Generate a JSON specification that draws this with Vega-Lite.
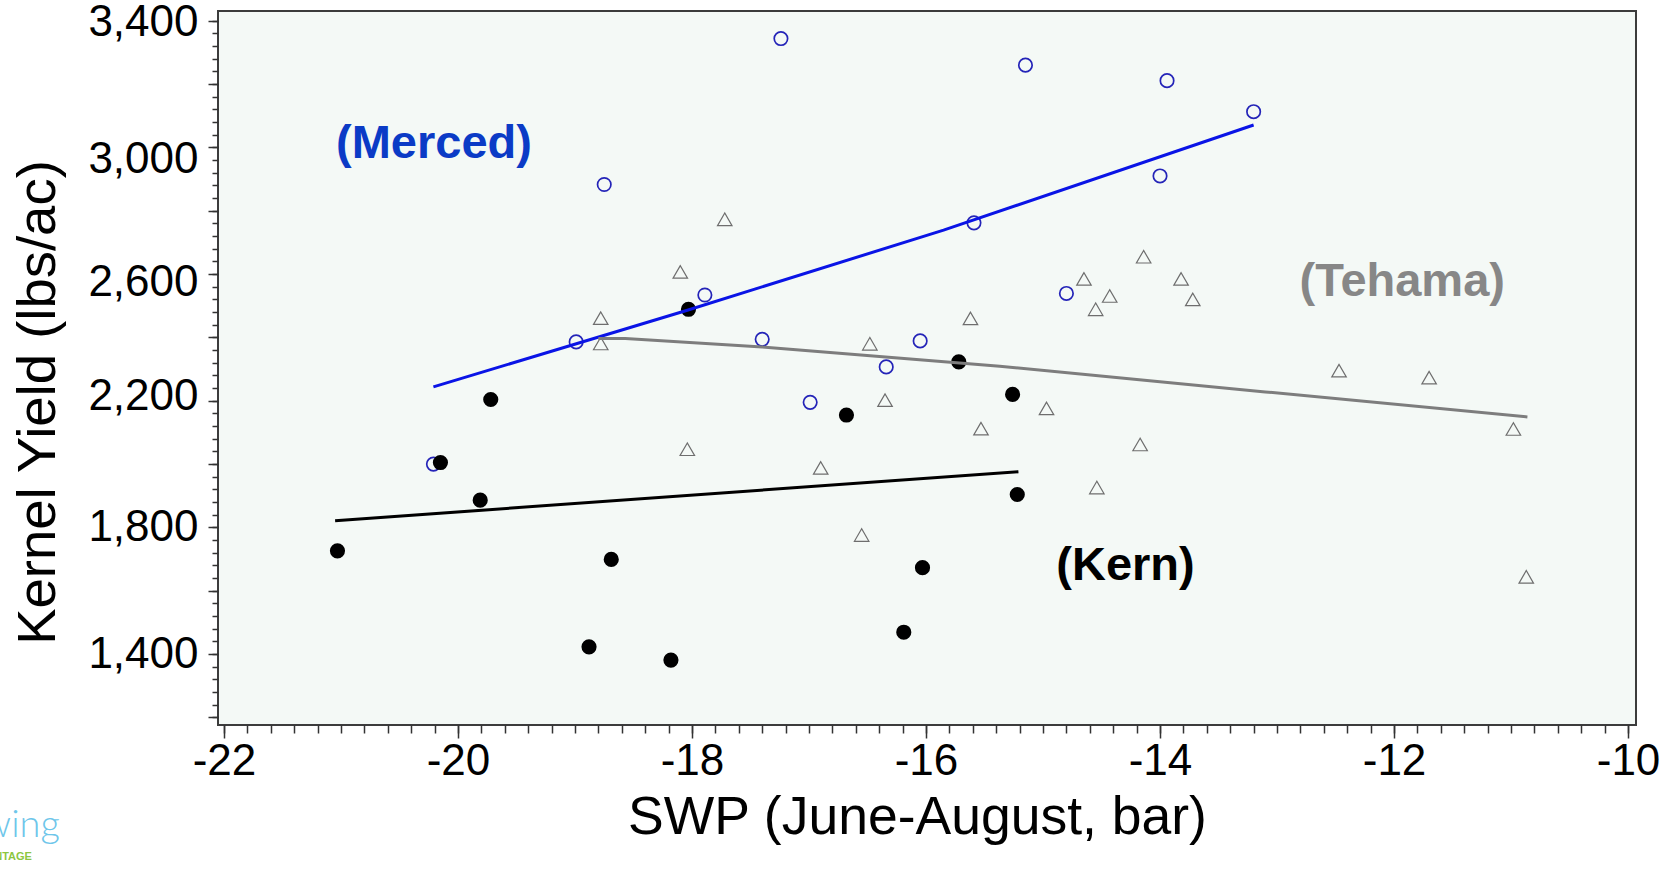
{
  "$schema": "https://vega.github.io/schema/vega-lite/v6.json",
  "width": 1418,
  "height": 714,
  "autosize": {"type": "none"},
  "padding": {"left": 218, "top": 11, "right": 44, "bottom": 146},
  "background": "#FFFFFF",
  "config": {
    "font": "Liberation Sans",
    "view": {"stroke": "#3c3c3c", "strokeWidth": 2, "fill": "#F4F9F6"}
  },
  "datasets": {
    "pts": [
      {"site": "Merced", "swp": -17.24, "yield": 3344},
      {"site": "Merced", "swp": -18.75, "yield": 2883},
      {"site": "Merced", "swp": -17.89, "yield": 2534},
      {"site": "Merced", "swp": -18.99, "yield": 2386},
      {"site": "Merced", "swp": -17.40, "yield": 2394},
      {"site": "Merced", "swp": -15.15, "yield": 3260},
      {"site": "Merced", "swp": -13.94, "yield": 3211},
      {"site": "Merced", "swp": -13.20, "yield": 3113},
      {"site": "Merced", "swp": -14.00, "yield": 2910},
      {"site": "Merced", "swp": -15.59, "yield": 2762},
      {"site": "Merced", "swp": -14.80, "yield": 2539},
      {"site": "Merced", "swp": -16.05, "yield": 2389},
      {"site": "Merced", "swp": -16.34, "yield": 2307},
      {"site": "Merced", "swp": -16.99, "yield": 2195},
      {"site": "Merced", "swp": -20.21, "yield": 2000},
      {"site": "Kern", "swp": -19.72, "yield": 2204},
      {"site": "Kern", "swp": -20.15, "yield": 2005},
      {"site": "Kern", "swp": -19.81, "yield": 1886},
      {"site": "Kern", "swp": -21.03, "yield": 1726},
      {"site": "Kern", "swp": -18.69, "yield": 1699},
      {"site": "Kern", "swp": -18.88, "yield": 1423},
      {"site": "Kern", "swp": -18.18, "yield": 1381},
      {"site": "Kern", "swp": -18.03, "yield": 2489},
      {"site": "Kern", "swp": -16.68, "yield": 2155},
      {"site": "Kern", "swp": -15.72, "yield": 2323},
      {"site": "Kern", "swp": -15.26, "yield": 2220},
      {"site": "Kern", "swp": -15.22, "yield": 1904},
      {"site": "Kern", "swp": -16.03, "yield": 1673},
      {"site": "Kern", "swp": -16.19, "yield": 1469},
      {"site": "Tehama", "swp": -17.72, "yield": 2773},
      {"site": "Tehama", "swp": -18.10, "yield": 2607},
      {"site": "Tehama", "swp": -18.78, "yield": 2461},
      {"site": "Tehama", "swp": -18.78, "yield": 2381},
      {"site": "Tehama", "swp": -16.48, "yield": 2380},
      {"site": "Tehama", "swp": -15.62, "yield": 2460},
      {"site": "Tehama", "swp": -16.35, "yield": 2202},
      {"site": "Tehama", "swp": -15.53, "yield": 2112},
      {"site": "Tehama", "swp": -18.04, "yield": 2047},
      {"site": "Tehama", "swp": -16.90, "yield": 1988},
      {"site": "Tehama", "swp": -14.14, "yield": 2655},
      {"site": "Tehama", "swp": -14.65, "yield": 2585},
      {"site": "Tehama", "swp": -13.82, "yield": 2585},
      {"site": "Tehama", "swp": -14.43, "yield": 2531},
      {"site": "Tehama", "swp": -14.55, "yield": 2489},
      {"site": "Tehama", "swp": -13.72, "yield": 2520},
      {"site": "Tehama", "swp": -14.97, "yield": 2176},
      {"site": "Tehama", "swp": -14.17, "yield": 2062},
      {"site": "Tehama", "swp": -14.54, "yield": 1926},
      {"site": "Tehama", "swp": -12.47, "yield": 2295},
      {"site": "Tehama", "swp": -11.70, "yield": 2273},
      {"site": "Tehama", "swp": -10.98, "yield": 2111},
      {"site": "Tehama", "swp": -10.87, "yield": 1644},
      {"site": "Tehama", "swp": -16.55, "yield": 1776}
    ],
    "fit": [
      {"site": "Merced", "swp": -20.21, "yield": 2244},
      {"site": "Merced", "swp": -18.04, "yield": 2486},
      {"site": "Merced", "swp": -15.85, "yield": 2739},
      {"site": "Merced", "swp": -13.20, "yield": 3071},
      {"site": "Tehama", "swp": -18.80, "yield": 2397},
      {"site": "Tehama", "swp": -18.57, "yield": 2397},
      {"site": "Tehama", "swp": -17.40, "yield": 2370},
      {"site": "Tehama", "swp": -15.37, "yield": 2309},
      {"site": "Tehama", "swp": -13.10, "yield": 2228},
      {"site": "Tehama", "swp": -10.86, "yield": 2149},
      {"site": "Kern", "swp": -21.05, "yield": 1821},
      {"site": "Kern", "swp": -15.21, "yield": 1976}
    ],
    "notes": [
      {"site": "Merced", "swp": -20.205, "yield": 3010, "text": "(Merced)"},
      {"site": "Tehama", "swp": -11.93, "yield": 2574, "text": "(Tehama)"},
      {"site": "Kern", "swp": -14.295, "yield": 1678, "text": "(Kern)"}
    ],
    "logo": [
      {"part": "word", "swp": -23.402, "yield": 822, "text": "Growing"},
      {"part": "tag", "swp": -23.641, "yield": 750, "text": "ADVANTAGE"}
    ]
  },
  "layer": [
    {
      "data": {"name": "pts"},
      "transform": [{"filter": "datum.site == 'Tehama'"}],
      "mark": {"type": "point", "shape": "triangle-up", "filled": false, "stroke": "#6e6e6e", "strokeWidth": 1.2, "size": 210, "opacity": 1},
      "encoding": {
        "x": {"field": "swp", "type": "quantitative", "scale": {"domain": [-22.051, -9.932], "nice": false, "zero": false},
          "axis": {"orient": "bottom", "values": [-22,-21.8,-21.6,-21.4,-21.2,-21,-20.8,-20.6,-20.4,-20.2,-20,-19.8,-19.6,-19.4,-19.2,-19,-18.8,-18.6,-18.4,-18.2,-18,-17.8,-17.6,-17.4,-17.2,-17,-16.8,-16.6,-16.4,-16.2,-16,-15.8,-15.6,-15.4,-15.2,-15,-14.8,-14.6,-14.4,-14.2,-14,-13.8,-13.6,-13.4,-13.2,-13,-12.8,-12.6,-12.4,-12.2,-12,-11.8,-11.6,-11.4,-11.2,-11,-10.8,-10.6,-10.4,-10.2,-10],
            "labels": false, "domain": false, "grid": false, "tickSize": 8, "tickColor": "#333333", "tickWidth": 1.5, "title": null}},
        "y": {"field": "yield", "type": "quantitative", "scale": {"domain": [1176, 3431], "nice": false, "zero": false},
          "axis": {"orient": "left", "values": [1200,1240,1280,1320,1360,1400,1440,1480,1520,1560,1600,1640,1680,1720,1760,1800,1840,1880,1920,1960,2000,2040,2080,2120,2160,2200,2240,2280,2320,2360,2400,2440,2480,2520,2560,2600,2640,2680,2720,2760,2800,2840,2880,2920,2960,3000,3040,3080,3120,3160,3200,3240,3280,3320,3360,3400],
            "labels": false, "domain": false, "grid": false, "tickSize": 6, "tickColor": "#333333", "tickWidth": 1.5, "title": null}}
      }
    },
    {
      "data": {"name": "pts"},
      "transform": [{"filter": "datum.site == 'Merced'"}],
      "mark": {"type": "point", "shape": "circle", "filled": false, "stroke": "#2424B8", "strokeWidth": 1.7, "size": 180, "opacity": 1},
      "encoding": {
        "x": {"field": "swp", "type": "quantitative", "scale": {"domain": [-22.051, -9.932], "nice": false, "zero": false}, "axis": null},
        "y": {"field": "yield", "type": "quantitative", "scale": {"domain": [1176, 3431], "nice": false, "zero": false}, "axis": null}
      }
    },
    {
      "data": {"name": "pts"},
      "transform": [{"filter": "datum.site == 'Kern'"}],
      "mark": {"type": "point", "shape": "circle", "filled": true, "color": "#000000", "size": 230, "opacity": 1},
      "encoding": {
        "x": {"field": "swp", "type": "quantitative", "scale": {"domain": [-22.051, -9.932], "nice": false, "zero": false},
          "axis": {"orient": "bottom", "values": [-22,-20,-18,-16,-14,-12,-10],
            "labelExpr": "datum.value < 0 ? '-' + format(-datum.value, 'd') : format(datum.value, 'd')",
            "labelFontSize": 44, "labelColor": "#000000", "labelPadding": 1, "labelFlush": false, "labelOverlap": false, "labelBound": false,
            "domain": false, "grid": false, "tickSize": 13, "tickColor": "#333333", "tickWidth": 1.5,
            "title": "SWP (June-August, bar)", "titleFontSize": 53.5, "titleFontWeight": "normal", "titleColor": "#000000",
            "titleX": 699, "titleY": 108, "titleBaseline": "alphabetic", "titleAlign": "center"}},
        "y": {"field": "yield", "type": "quantitative", "scale": {"domain": [1176, 3431], "nice": false, "zero": false},
          "axis": {"orient": "left", "values": [1200,1400,1600,1800,2000,2200,2400,2600,2800,3000,3200,3400],
            "labelExpr": "datum.value % 400 == 200 ? format(datum.value, ',') : ''",
            "labelOffset": {"expr": "datum.value == 3000 ? 12 : datum.value == 2600 ? 8 : datum.value == 2200 ? -4 : datum.value == 3400 ? 2 : 0"},
            "labelFontSize": 44, "labelColor": "#000000", "labelPadding": 10, "labelOverlap": false, "labelFlush": false, "labelBound": false,
            "domain": false, "grid": false, "tickSize": 10, "tickColor": "#333333", "tickWidth": 1.5,
            "title": "Kernel Yield (lbs/ac)", "titleFontSize": 54.5, "titleFontWeight": "normal", "titleColor": "#000000",
            "titleAngle": 270, "titleX": -180, "titleY": 391, "titleBaseline": "middle", "titleAlign": "center"}}
      }
    },
    {
      "data": {"name": "fit"},
      "transform": [{"filter": "datum.site == 'Merced'"}],
      "mark": {"type": "line", "color": "#0A14E6", "strokeWidth": 3},
      "encoding": {
        "x": {"field": "swp", "type": "quantitative", "scale": {"domain": [-22.051, -9.932], "nice": false, "zero": false}, "axis": null},
        "y": {"field": "yield", "type": "quantitative", "scale": {"domain": [1176, 3431], "nice": false, "zero": false}, "axis": null}
      }
    },
    {
      "data": {"name": "fit"},
      "transform": [{"filter": "datum.site == 'Tehama'"}],
      "mark": {"type": "line", "color": "#7d7d7d", "strokeWidth": 3},
      "encoding": {
        "x": {"field": "swp", "type": "quantitative", "scale": {"domain": [-22.051, -9.932], "nice": false, "zero": false}, "axis": null},
        "y": {"field": "yield", "type": "quantitative", "scale": {"domain": [1176, 3431], "nice": false, "zero": false}, "axis": null}
      }
    },
    {
      "data": {"name": "fit"},
      "transform": [{"filter": "datum.site == 'Kern'"}],
      "mark": {"type": "line", "color": "#000000", "strokeWidth": 3},
      "encoding": {
        "x": {"field": "swp", "type": "quantitative", "scale": {"domain": [-22.051, -9.932], "nice": false, "zero": false}, "axis": null},
        "y": {"field": "yield", "type": "quantitative", "scale": {"domain": [1176, 3431], "nice": false, "zero": false}, "axis": null}
      }
    },
    {
      "data": {"name": "notes"},
      "transform": [{"filter": "datum.site == 'Merced'"}],
      "mark": {"type": "text", "font": "Liberation Sans", "fontWeight": "bold", "fontSize": 47, "align": "center", "baseline": "middle", "color": "#0B3BC6"},
      "encoding": {
        "x": {"field": "swp", "type": "quantitative", "scale": {"domain": [-22.051, -9.932], "nice": false, "zero": false}, "axis": null},
        "y": {"field": "yield", "type": "quantitative", "scale": {"domain": [1176, 3431], "nice": false, "zero": false}, "axis": null},
        "text": {"field": "text"}
      }
    },
    {
      "data": {"name": "notes"},
      "transform": [{"filter": "datum.site == 'Tehama'"}],
      "mark": {"type": "text", "font": "Liberation Sans", "fontWeight": "bold", "fontSize": 47, "align": "center", "baseline": "middle", "color": "#878787"},
      "encoding": {
        "x": {"field": "swp", "type": "quantitative", "scale": {"domain": [-22.051, -9.932], "nice": false, "zero": false}, "axis": null},
        "y": {"field": "yield", "type": "quantitative", "scale": {"domain": [1176, 3431], "nice": false, "zero": false}, "axis": null},
        "text": {"field": "text"}
      }
    },
    {
      "data": {"name": "notes"},
      "transform": [{"filter": "datum.site == 'Kern'"}],
      "mark": {"type": "text", "font": "Liberation Sans", "fontWeight": "bold", "fontSize": 47, "align": "center", "baseline": "middle", "color": "#000000"},
      "encoding": {
        "x": {"field": "swp", "type": "quantitative", "scale": {"domain": [-22.051, -9.932], "nice": false, "zero": false}, "axis": null},
        "y": {"field": "yield", "type": "quantitative", "scale": {"domain": [1176, 3431], "nice": false, "zero": false}, "axis": null},
        "text": {"field": "text"}
      }
    },
    {
      "data": {"name": "logo"},
      "transform": [{"filter": "datum.part == 'word'"}],
      "mark": {"type": "text", "font": "Lato", "fontWeight": 300, "fontSize": 38, "align": "right", "baseline": "alphabetic", "color": "#6EC6EA"},
      "encoding": {
        "x": {"field": "swp", "type": "quantitative", "scale": {"domain": [-22.051, -9.932], "nice": false, "zero": false}, "axis": null},
        "y": {"field": "yield", "type": "quantitative", "scale": {"domain": [1176, 3431], "nice": false, "zero": false}, "axis": null},
        "text": {"field": "text"}
      }
    },
    {
      "data": {"name": "logo"},
      "transform": [{"filter": "datum.part == 'tag'"}],
      "mark": {"type": "text", "font": "Liberation Sans", "fontWeight": "bold", "fontSize": 11, "align": "right", "baseline": "alphabetic", "color": "#8CC63F"},
      "encoding": {
        "x": {"field": "swp", "type": "quantitative", "scale": {"domain": [-22.051, -9.932], "nice": false, "zero": false}, "axis": null},
        "y": {"field": "yield", "type": "quantitative", "scale": {"domain": [1176, 3431], "nice": false, "zero": false}, "axis": null},
        "text": {"field": "text"}
      }
    }
  ],
  "resolve": {"axis": {"x": "independent", "y": "independent"}}
}
